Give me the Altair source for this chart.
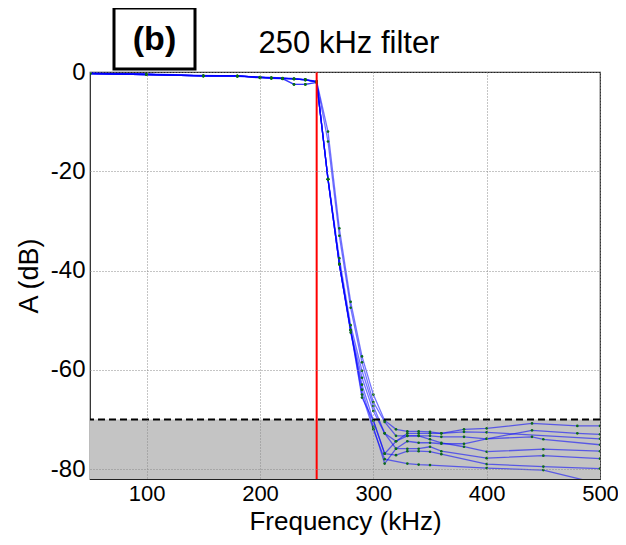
import altair as alt
import pandas as pd

FONT = "Liberation Sans"

# frequency grid (kHz) shared by all sweep curves
FREQ = [50, 100, 150, 180, 200, 210, 220, 230, 240, 250, 260, 270, 280, 290, 300,
        310, 320, 330, 340, 350, 360, 380, 400, 440, 450, 480, 500]
N = None
C1 = [-0.2, -0.4, -0.7, -0.8, -1.0, -1.1, -1.2, -1.3, -1.5, -1.9, -12.0, -31.5, -46.3, -57.3, -65.0,
      -70.2, -72.0, -72.4, -72.4, -72.5, -72.8, -72.0, -71.8, -70.8, N, -71.3, -71.3]
C2 = [-0.3, -0.5, -0.8, -0.8, -1.1, -1.2, -1.3, -1.4, -1.6, -2.0, -14.0, -33.0, -47.5, -58.5, -66.5,
      -70.5, -73.3, -73.3, -73.3, -73.3, -73.5, -73.5, -73.9, -72.2, N, -72.8, -73.0]
C3 = [-0.3, -0.5, -0.8, -0.9, -1.2, -1.3, -1.4, -2.5, -2.5, -2.1, -21.5, -37.5, -51.0, -60.2, -67.3,
      -72.8, -74.4, -72.8, -72.8, -72.8, -72.8, -72.5, -72.6, N, N, N, -73.9]
C4 = [-0.3, -0.5, -0.8, -0.8, -1.1, -1.2, -1.3, -1.4, -1.6, -2.0, -21.6, -38.7, -52.0, -61.6, -68.3,
      -72.8, -75.9, -74.4, -74.7, -74.7, -74.9, -74.9, -73.9, -73.5, -74.0, N, -75.1]
C5 = [-0.3, -0.5, -0.8, -0.8, -1.1, -1.2, -1.3, -1.4, -1.6, -2.0, -21.6, -38.7, -52.5, -63.0, -70.2,
      -76.9, -74.4, -73.3, -73.3, -74.0, -74.7, -75.5, -76.5, N, -76.0, N, -76.4]
C6 = [-0.3, -0.5, -0.8, -0.8, -1.1, -1.2, -1.3, -2.5, -2.5, -2.1, -21.6, -38.7, -52.0, -64.0, -71.5,
      -78.9, -75.9, -75.9, -75.9, -75.5, -76.4, N, -77.8, N, -77.3, N, -77.9]
C7 = [-0.3, -0.5, -0.8, -0.8, -1.1, -1.2, -1.3, -1.4, -1.6, -2.0, -21.6, -38.7, -52.0, -65.6, -70.2,
      -76.9, -77.2, -76.4, -76.4, -76.5, -77.0, N, -79.0, N, -79.5, N, -79.9]
C8 = [-0.3, -0.5, -0.8, -0.8, -1.1, -1.2, -1.3, -1.4, -1.6, -2.0, -21.6, -38.7, -52.0, -65.0, -72.0,
      -78.0, N, -78.9, -79.1, -79.2, N, N, -79.8, N, -80.2, N, -83.0]
CURVES = [C1, C2, C3, C4, C5, C6, C7, C8]

X_DOMAIN = [50, 500]
Y_DOMAIN = [-82, 0]
X_TICKS = [100, 200, 300, 400, 500]
Y_TICKS = [0, -20, -40, -60, -80]
CUTOFF = [250]
STOP_LEVEL = [-70]
TITLE = ["250 kHz filter"]
PANEL = ["(b)"]

rows = []
for i, vals in enumerate(CURVES):
    for f, v in zip(FREQ, vals):
        if v is not None:
            rows.append({"curve": f"c{i+1}", "f": f, "db": v})
df = pd.DataFrame(rows)

common_axis = dict(grid=True, ticks=False, domain=False, zindex=1,
                   labelFont=FONT, titleFont=FONT,
                   labelColor="black", titleColor="black", titleFontWeight="normal",
                   gridColor="#8a8a8a", gridDash=[1, 2], gridWidth=1, gridOpacity=1,
                   labelFlush=False, labelOverlap=False,
                   labelExpr="'' + datum.value")

xscale = alt.Scale(domain=X_DOMAIN, nice=False, zero=False)
yscale = alt.Scale(domain=Y_DOMAIN, nice=False, zero=False)
xaxis = alt.Axis(values=X_TICKS, title="Frequency (kHz)", labelPadding=4, titlePadding=4,
                 labelFontSize=22, titleFontSize=26, **common_axis)
yaxis = alt.Axis(values=Y_TICKS, title="A (dB)", labelPadding=5, titlePadding=7,
                 labelFontSize=24, titleFontSize=27, **common_axis)

def X(field):
    return alt.X(field, type="quantitative", scale=xscale, axis=xaxis)

def Y(field):
    return alt.Y(field, type="quantitative", scale=yscale, axis=yaxis)

band_df = pd.DataFrame({"x0": [X_DOMAIN[0]], "x1": [X_DOMAIN[1]],
                        "y0": STOP_LEVEL, "y1": [Y_DOMAIN[0]]})
band = alt.Chart(band_df).mark_rect(color="#c4c4c4").encode(
    x=X("x0"), x2="x1", y=Y("y0"), y2="y1")

stop_rule = alt.Chart(pd.DataFrame({"y": STOP_LEVEL})).mark_rule(
    color="black", strokeWidth=2, strokeDash=[7, 4]).encode(y=Y("y"))

lines = alt.Chart(df).mark_line(color="#0000ff", opacity=0.55, strokeWidth=1.3, clip=True).encode(
    x=X("f"), y=Y("db"), detail="curve:N", order="f:Q")

points = alt.Chart(df).mark_point(filled=True, color="#0b6b1a", size=7, opacity=1, clip=True).encode(
    x=X("f"), y=Y("db"))

cut_rule = alt.Chart(pd.DataFrame({"f": CUTOFF})).mark_rule(
    color="#ff0000", strokeWidth=2).encode(x=X("f"))

panel_df = pd.DataFrame({"label": PANEL})
panel_box = alt.Chart(panel_df).mark_rect(fill="white", stroke="black", strokeWidth=3).encode(
    x=alt.value(24), x2=alt.value(105), y=alt.value(-64), y2=alt.value(-3))
panel_text = alt.Chart(panel_df).mark_text(
    font=FONT, fontSize=34, fontWeight="bold", color="black", baseline="middle", align="center").encode(
    x=alt.value(64.5), y=alt.value(-32), text="label:N")

title_text = alt.Chart(pd.DataFrame({"t": TITLE})).mark_text(
    font=FONT, fontSize=31, color="black", baseline="alphabetic", align="center").encode(
    x=alt.value(259), y=alt.value(-19), text="t:N")

chart = alt.layer(band, lines, points, stop_rule, cut_rule, panel_box, panel_text, title_text).properties(
    width=510, height=407,
    autosize=alt.AutoSizeParams(type="none"),
    padding={"left": 82, "top": 64, "right": 18, "bottom": 58},
    background="white",
).configure_view(stroke="#222222", strokeWidth=1.2)

chart.save("out.html", embed_options={"renderer": "svg", "actions": False})
